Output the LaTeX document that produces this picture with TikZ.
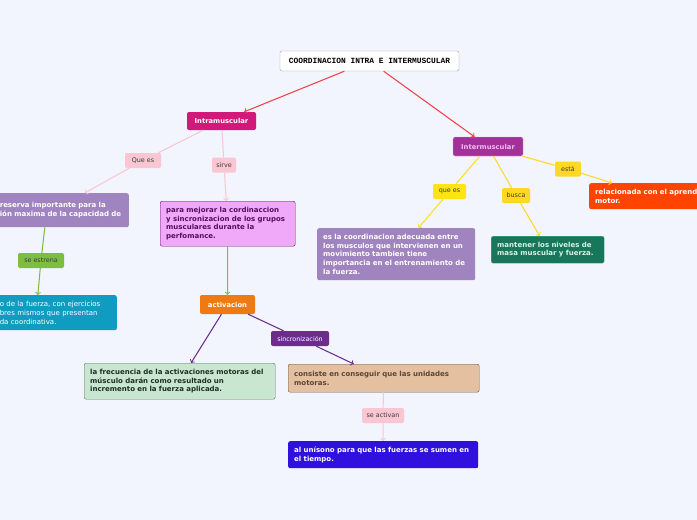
\documentclass[tikz,border=0pt]{standalone}
\usepackage{fontspec}
\setmainfont{DejaVu Sans}
\newfontfamily\titlefont{Liberation Mono}
\usetikzlibrary{positioning}

\definecolor{bgcol}{HTML}{F2F4FE}
\definecolor{redline}{HTML}{F2404A}
\definecolor{pinkline}{HTML}{F9C6D2}
\definecolor{greenline}{HTML}{7EBE3E}
\definecolor{violetline}{HTML}{6C2C8E}
\definecolor{yellowline}{HTML}{FFE01A}
\definecolor{goldline}{HTML}{FFD824}
\definecolor{tagtext}{HTML}{3C3C3C}
\definecolor{intrafill}{HTML}{D2197A}
\definecolor{interfill}{HTML}{A2319A}
\definecolor{interdraw}{HTML}{E8A2E6}
\definecolor{intertext}{HTML}{F6BCF2}
\definecolor{lavender}{HTML}{A084C0}
\definecolor{mejorarfill}{HTML}{F0A8F8}
\definecolor{mejorardraw}{HTML}{5A1A60}
\definecolor{mejorartext}{HTML}{50105A}
\definecolor{tealfill}{HTML}{109CC0}
\definecolor{orangefill}{HTML}{F07A12}
\definecolor{mintfill}{HTML}{C8E6D0}
\definecolor{mintdraw}{HTML}{5E7262}
\definecolor{minttext}{HTML}{1E2E22}
\definecolor{tanfill}{HTML}{E4BFA0}
\definecolor{tandraw}{HTML}{66584A}
\definecolor{tantext}{HTML}{5A4636}
\definecolor{bluefill}{HTML}{3010DE}
\definecolor{queesfill}{HTML}{FFE414}
\definecolor{greenfill}{HTML}{18765A}
\definecolor{greendraw}{HTML}{5CC2A0}
\definecolor{greentext}{HTML}{D6F4E6}
\definecolor{redfill}{HTML}{FF4400}
\definecolor{titledraw}{HTML}{9EA2AE}

\tikzset{
  box/.style={rectangle, rounded corners=2pt, align=left, inner xsep=6pt, inner ysep=2pt,
    font=\fontsize{7}{8.7}\selectfont\bfseries},
  head/.style={rectangle, rounded corners=2pt, inner xsep=6pt, inner ysep=0pt,
    font=\fontsize{6.8}{8}\selectfont\bfseries},
  tag/.style={rectangle, rounded corners=2pt, inner xsep=3pt, inner ysep=0pt, minimum height=15pt,
    font=\fontsize{6.4}{7}\selectfont, text=tagtext},
  link/.style={line width=1.05pt},
}

\begin{document}
\begin{tikzpicture}[x=1pt,y=-1pt]

\fill[bgcol] (0,0) rectangle (697,520);
\useasboundingbox (0,0) rectangle (697,520);
\clip (0,0) rectangle (697,520);

% main title and the two branches
\node[head, fill=white, draw=titledraw, minimum width=179pt, minimum height=20pt, font=\titlefont\fontsize{7.9}{9}\selectfont\bfseries] (title) at (369.5,61) {COORDINACION INTRA E INTERMUSCULAR};
\node[head, fill=intrafill, text=white, minimum width=69pt, minimum height=18pt] (intra) at (221.5,121) {Intramuscular};
\node[head, fill=interfill, draw=interdraw, text=intertext, minimum width=70pt, minimum height=19pt] (inter) at (488,146.5) {Intermuscular};

% intramuscular side
\node[tag, fill=pinkline, minimum width=36pt] (quees) at (143,160.5) {Que es};
\node[tag, fill=pinkline, minimum width=24pt] (sirve) at (224,165) {sirve};
\node[box, anchor=north east, fill=lavender, text=white, text width=126pt, inner xsep=3pt, minimum height=34pt] (reserva) at (129,193) {reserva importante para la\\ión maxima de la capacidad de};
\node[box, anchor=north west, fill=mejorarfill, draw=mejorardraw, text=mejorartext, text width=123pt, minimum height=45pt] (mejorar) at (160,201) {para mejorar la cordinaccion\\y sincronizacion de los grupos\\musculares durante la\\perfomance.};
\node[tag, fill=greenline, minimum width=46pt] (estrena) at (41,260.5) {se estrena};
\node[box, anchor=north east, fill=tealfill, text=white, text width=114pt, inner xsep=3pt, minimum height=35pt, font=\fontsize{7}{8.7}\selectfont] (ejercicios) at (117,295) {o de la fuerza, con ejercicios\\bres mismos que presentan\\da coordinativa.};
\node[head, fill=orangefill, text=white, minimum width=55pt, minimum height=19pt] (activacion) at (227.5,304.5) {activacion};
\node[tag, fill=violetline, text=white, minimum width=58pt] (sincro) at (300,338.5) {sincronización};
\node[box, anchor=north west, fill=mintfill, draw=mintdraw, text=minttext, text width=179pt, minimum height=36pt] (frecuencia) at (84,363) {la frecuencia de la activaciones motoras del\\músculo darán como resultado un\\incremento en la fuerza aplicada.};
\node[box, anchor=north west, fill=tanfill, draw=tandraw, text=tantext, text width=179pt, minimum height=28pt] (consiste) at (288,364) {consiste en conseguir que las unidades\\motoras.};
\node[tag, fill=pinkline, minimum width=42pt] (activan) at (383,415.5) {se activan};
\node[box, anchor=north west, fill=bluefill, text=white, text width=178pt, minimum height=27pt] (unisono) at (288,441) {al unísono para que las fuerzas se sumen en\\el tiempo.};

% intermuscular side
\node[tag, fill=queesfill, minimum width=33pt] (queesinter) at (449.5,191.5) {que es};
\node[tag, fill=goldline, minimum width=28pt] (busca) at (516,195.5) {busca};
\node[tag, fill=goldline, minimum width=26pt] (esta) at (568,169) {está};
\node[box, anchor=north west, fill=lavender, text=white, text width=146pt, minimum height=52pt] (coordinacion) at (317,228) {es la coordinacion adecuada entre\\los musculos que intervienen en un\\movimiento tambien tiene\\importancia en el entrenamiento de\\la fuerza.};
\node[box, anchor=north west, fill=greenfill, draw=greendraw, text=greentext, text width=101pt, minimum height=27pt] (mantener) at (491,236) {mantener los niveles de\\masa muscular y fuerza.};
\node[box, anchor=north west, fill=redfill, text=white, text width=150pt, minimum height=26pt] (relacionada) at (589,183) {relacionada con el aprendizaje\\motor.};

% connectors
\draw[->,link,redline] (title) -- (intra);
\draw[->,link,redline] (title) -- (inter);

\draw[link,pinkline] (intra) -- (quees);
\draw[->,link,pinkline] (quees) -- ([xshift=22pt]reserva.north);
\draw[link,pinkline] (intra) -- (sirve);
\draw[->,link,pinkline] (sirve) -- (mejorar);

\draw[link,greenline] ([xshift=-18pt]reserva.south) -- (estrena);
\draw[->,link,greenline] (estrena) -- ([xshift=-19pt]ejercicios.north);
\draw[->,link,greenline] (mejorar) -- (activacion);

\draw[->,link,violetline] (activacion) -- (frecuencia);
\draw[link,violetline] (activacion) -- (sincro);
\draw[->,link,violetline] (sincro) -- (consiste);

\draw[link,pinkline] (consiste) -- (activan);
\draw[->,link,pinkline] (activan) -- (unisono);

\draw[link,yellowline] (inter) -- (queesinter);
\draw[->,link,yellowline] (queesinter) -- (coordinacion);
\draw[link,goldline] (inter) -- (busca);
\draw[->,link,goldline] (busca) -- (mantener);
\draw[link,goldline] (inter) -- (esta);
\draw[->,link,goldline] (esta) -- ([xshift=23pt]relacionada.north west);

\end{tikzpicture}
\end{document}
